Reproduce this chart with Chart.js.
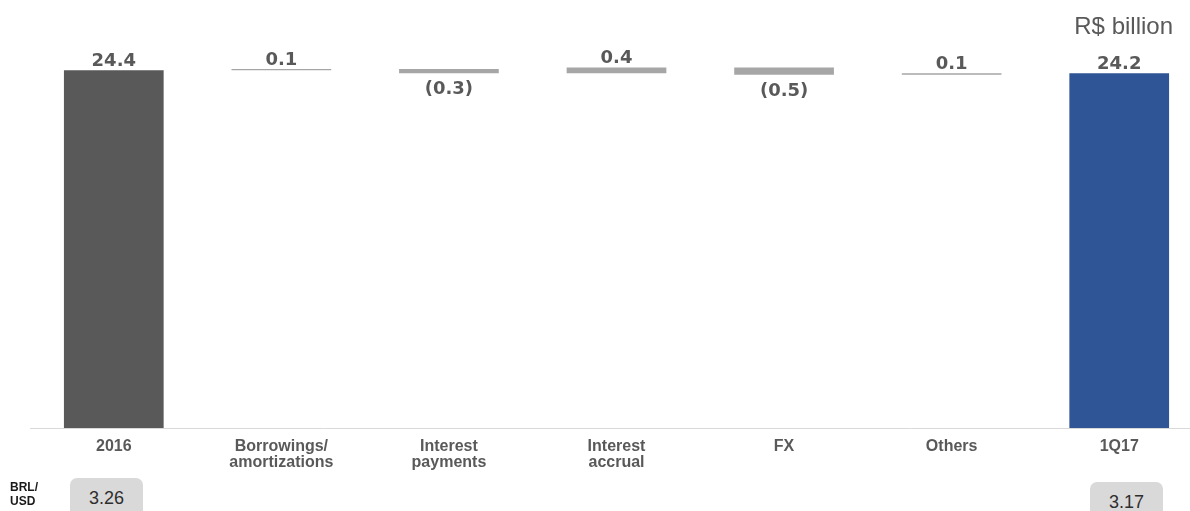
<!DOCTYPE html>
<html>
<head>
<meta charset="utf-8">
<title>Gross debt bridge</title>
<script src="https://cdn.jsdelivr.net/npm/chart.js@4.4.1/dist/chart.umd.min.js"></script>
<style>
  html, body { margin: 0; padding: 0; background: #fff; overflow: hidden; width: 1190px; height: 511px; }
  #wrap { position: absolute; left: 0; top: 0; width: 1204px; height: 511px; }
  .unit { position: absolute; right: 17px; top: 14px; font: 24px/24px "Liberation Sans", Arial, sans-serif; color: #595959; white-space: nowrap; }
  .fx-title { position: absolute; left: 10px; top: 480px; font: bold 12px/14px "Liberation Sans", Arial, sans-serif; color: #1a1a1a; }
  .fx-box { position: absolute; width: 73px; height: 40px; background: #D9D9D9; border-radius: 7px;
            font: 18px/40px "Liberation Sans", Arial, sans-serif; color: #2e2e2e; text-align: center; }
</style>
</head>
<body>
<div id="wrap"><canvas id="debt" width="1204" height="511"></canvas></div>
<div class="unit">R$ billion</div>
<div class="fx-title">BRL/<br>USD</div>
<div id="fx"></div>
<script>
// Categories along the bridge (multi-line labels as arrays)
const categories = [
  ['2016'],
  ['Borrowings/', 'amortizations'],
  ['Interest', 'payments'],
  ['Interest', 'accrual'],
  ['FX'],
  ['Others'],
  ['1Q17']
];
// Opening and closing gross debt, R$ billion
const openingDebt = 24.4;
const closingDebt = 24.2;
// Movements between the two balances, R$ billion
const changes = [0.1, -0.3, 0.4, -0.5, 0.1];
// BRL/USD exchange rate at each balance date
const brlUsd = ['3.26', '3.17'];

// Floating ranges for the waterfall: totals from zero, movements from the running level
const ranges = [[0, openingDebt]];
let level = openingDebt;
changes.forEach(d => {
  const next = Math.round((level + d) * 10) / 10;
  ranges.push([Math.min(level, next), Math.max(level, next)]);
  level = next;
});
ranges.push([0, closingDebt]);
const labelValues = [openingDebt, ...changes, closingDebt];
const barColors = ['#595959', '#A6A6A6', '#A6A6A6', '#A6A6A6', '#A6A6A6', '#A6A6A6', '#2F5597'];

// Value labels: above the bar for positive values, below it in parentheses for negative ones
const valueLabels = {
  id: 'valueLabels',
  afterDatasetsDraw(chart) {
    const ctx = chart.ctx;
    const meta = chart.getDatasetMeta(0);
    ctx.save();
    ctx.font = 'bold 18px "DejaVu Sans"';
    ctx.fillStyle = '#595959';
    ctx.textAlign = 'center';
    ctx.textBaseline = 'alphabetic';
    meta.data.forEach((bar, i) => {
      const v = labelValues[i];
      const top = Math.min(bar.y, bar.base);
      const bottom = Math.max(bar.y, bar.base);
      if (v < 0) {
        ctx.fillText('(' + Math.abs(v).toFixed(1) + ')', bar.x, bottom + 21);
      } else {
        ctx.fillText(v.toFixed(1), bar.x, top - 4);
      }
    });
    ctx.restore();
  }
};

const chart = new Chart(document.getElementById('debt'), {
  type: 'bar',
  data: {
    labels: categories,
    datasets: [{
      data: ranges,
      backgroundColor: barColors,
      borderWidth: 0,
      barPercentage: 0.595,
      categoryPercentage: 1
    }]
  },
  options: {
    responsive: false,
    animation: false,
    devicePixelRatio: 1,
    layout: { padding: { left: 30, right: 1, top: 0, bottom: 0 } },
    plugins: { legend: { display: false }, tooltip: { enabled: false } },
    scales: {
      x: {
        grid: { display: false, drawTicks: false },
        border: { display: true, color: '#D9D9D9', width: 1 },
        ticks: {
          color: '#595959',
          font: { family: '"Liberation Sans", Arial, sans-serif', size: 16, weight: 'bold', lineHeight: 1.0 },
          padding: 11,
          maxRotation: 0,
          autoSkip: false
        },
        afterFit(scale) { scale.height = 83; }
      },
      y: { display: false, min: 0, max: 29.2 }
    }
  },
  plugins: [valueLabels]
});

// Exchange-rate boxes under the opening and closing columns
const fxHolder = document.getElementById('fx');
const fxBoxPos = [{ left: 70, top: 478 }, { left: 1090, top: 482 }];
brlUsd.forEach((rate, i) => {
  const box = document.createElement('div');
  box.className = 'fx-box';
  box.style.left = fxBoxPos[i].left + 'px';
  box.style.top = fxBoxPos[i].top + 'px';
  box.textContent = rate;
  fxHolder.appendChild(box);
});
</script>
</body>
</html>
